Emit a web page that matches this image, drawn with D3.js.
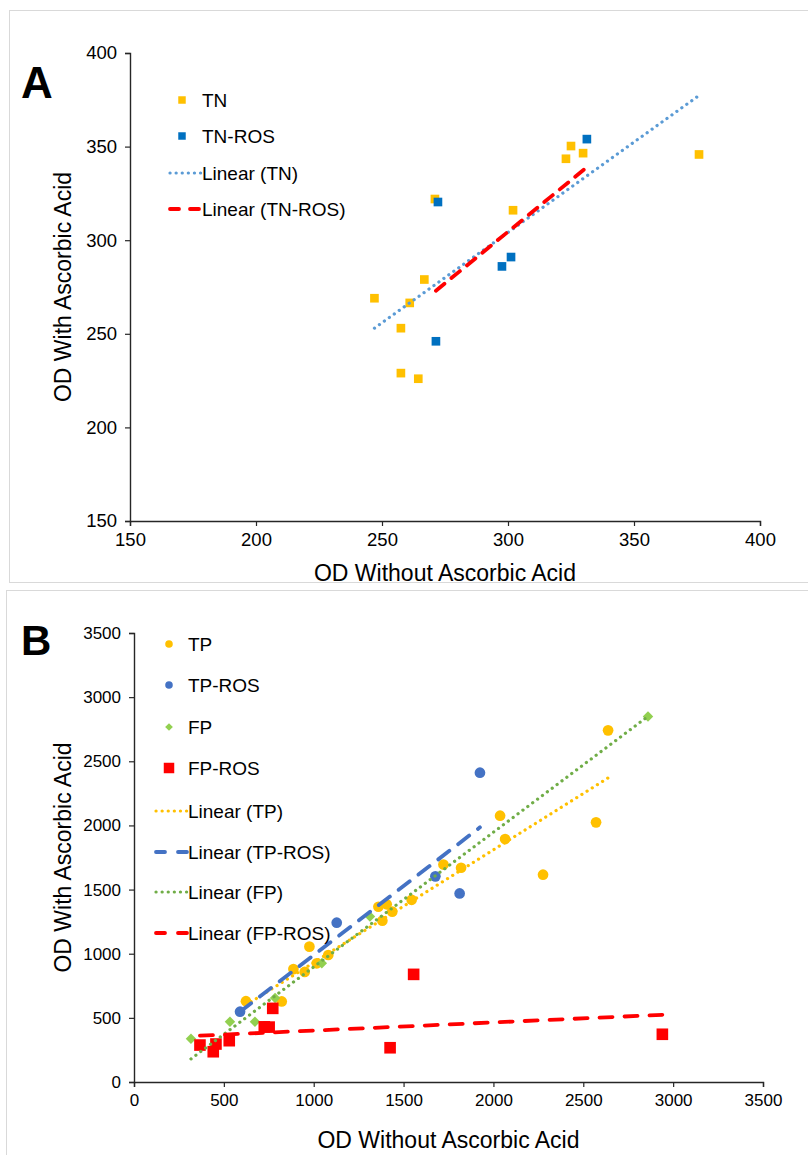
<!DOCTYPE html>
<html>
<head>
<meta charset="utf-8">
<script src="https://cdnjs.cloudflare.com/ajax/libs/d3/7.8.5/d3.min.js"></script>
<style>
  body { margin: 0; background: #fff; }
  text { font-family: "Liberation Sans", Arial, sans-serif; fill: #000; }
</style>
</head>
<body>
<div id="chart"></div>
<script>
// Panel A data (OD without, OD with)
var tnData = [[247, 269], [261, 266.5], [266.8, 279], [257.5, 253], [257.5, 229], [264.4, 226],
    [271, 322], [302, 316], [323, 343.5], [325, 350.3], [329.8, 346.5], [375.8, 345.8]];
var tnRosData = [[272.2, 320.4], [271.4, 246], [297.6, 286], [301.2, 291], [331.3, 354]];
var tnTrend = [[247, 253], [376, 377.5]];
var tnRosTrend = [[271.4, 273], [331.3, 339]];
var ticksA = [150, 200, 250, 300, 350, 400];

// Panel B data
var tpData = [[623, 630], [822, 628], [887, 880], [950, 858], [976, 1055], [1017, 925], [1081, 990],
    [1360, 1366], [1382, 1257], [1406, 1385], [1437, 1328], [1545, 1420], [1722, 1695], [1820, 1670],
    [2037, 2076], [2065, 1894], [2276, 1616], [2571, 2024], [2638, 2741]];
var tpRosData = [[590, 548], [1128, 1242], [1677, 1603], [1812, 1470], [1925, 2411]];
var fpData = [[317, 338], [534, 470], [673, 470], [785, 655], [1045, 925], [1313, 1290], [2860, 2850]];
var fpRosData = [[367, 288], [441, 236], [456, 296], [530, 322], [725, 430], [752, 428], [772, 574],
    [1425, 267], [1556, 839], [2940, 372]];
var tpTrend = [[623, 600], [2640, 2372]];
var tpRosTrend = [[590, 548], [1925, 1985]];
var fpTrend = [[317, 180], [2860, 2850]];
var fpRosTrend = [[367, 361], [2940, 524]];
var ticksB = [0, 500, 1000, 1500, 2000, 2500, 3000, 3500];

var svg = d3.select('#chart')
    .append('svg')
    .attr('width', 808)
    .attr('height', 1155);

// panel frames
svg.append('rect').attr('x', 9.5).attr('y', 10.5).attr('width', 820).attr('height', 572)
    .attr('fill', 'none').attr('stroke', '#d9d9d9');
svg.append('rect').attr('x', 6.5).attr('y', 590.5).attr('width', 820).attr('height', 600)
    .attr('fill', 'none').attr('stroke', '#d9d9d9');

function drawAxes(g, x, y, ticks, fontSize, xTitleY, yTitleX) {
    var xr = x.range(), yr = y.range();
    var xAxis = g.append('g')
        .attr('transform', `translate(0, ${yr[0]})`)
        .call(d3.axisBottom(x).tickValues(ticks).tickSize(5).tickPadding(7).tickFormat(d3.format('d')));
    var yAxis = g.append('g')
        .attr('transform', `translate(${xr[0]}, 0)`)
        .call(d3.axisLeft(y).tickValues(ticks).tickSize(5).tickPadding(8).tickFormat(d3.format('d')));
    [xAxis, yAxis].forEach(function(a) {
        a.select('.domain').attr('stroke', '#262626').attr('stroke-width', 1.4);
        a.selectAll('.tick line').attr('stroke', '#262626').attr('stroke-width', 1.2);
        a.selectAll('.tick text').attr('font-size', fontSize).attr('fill', '#000')
            .style('font-family', '"Liberation Sans", Arial, sans-serif');
    });
    g.append('text')
        .attr('x', (xr[0] + xr[1]) / 2)
        .attr('y', xTitleY)
        .attr('text-anchor', 'middle')
        .attr('font-size', 23)
        .text('OD Without Ascorbic Acid');
    g.append('text')
        .attr('transform', `translate(${yTitleX}, ${(yr[0] + yr[1]) / 2}) rotate(-90)`)
        .attr('text-anchor', 'middle')
        .attr('font-size', 23)
        .text('OD With Ascorbic Acid');
}

function drawTrend(g, x, y, pts, color, dash, width) {
    g.append('path')
        .datum(pts)
        .attr('d', d3.line().x(d => x(d[0])).y(d => y(d[1])))
        .attr('fill', 'none')
        .attr('stroke', color)
        .attr('stroke-width', width)
        .attr('stroke-linecap', 'round')
        .attr('stroke-dasharray', dash);
}

// rot = 45 turns a square into the Excel-style diamond
function drawMarks(g, x, y, data, shape, size, color, rot) {
    g.append('g').selectAll('path')
        .data(data)
        .enter()
        .append('path')
        .attr('transform', d => `translate(${x(d[0])}, ${y(d[1])}) rotate(${rot || 0})`)
        .attr('d', d3.symbol().type(shape).size(size))
        .attr('fill', color);
}

function legendItem(g, lx, tx, ly, label, mark) {
    if (mark.line) {
        g.append('line')
            .attr('x1', lx - 14).attr('x2', lx + 17)
            .attr('y1', ly).attr('y2', ly)
            .attr('stroke', mark.color)
            .attr('stroke-width', mark.width)
            .attr('stroke-linecap', 'round')
            .attr('stroke-dasharray', mark.dash);
    } else {
        g.append('path')
            .attr('transform', `translate(${lx}, ${ly}) rotate(${mark.rot || 0})`)
            .attr('d', d3.symbol().type(mark.shape).size(mark.size))
            .attr('fill', mark.color);
    }
    g.append('text')
        .attr('x', tx)
        .attr('y', ly + 7)
        .attr('font-size', 19)
        .text(label);
}

// ---------- Panel A ----------
var gA = svg.append('g');
var xA = d3.scaleLinear().domain([150, 400]).range([130, 760]);
var yA = d3.scaleLinear().domain([150, 400]).range([521, 53]);
drawAxes(gA, xA, yA, ticksA, 18.5, 581, 71);

drawMarks(gA, xA, yA, tnData, d3.symbolSquare, 75, '#FFC000');
drawMarks(gA, xA, yA, tnRosData, d3.symbolSquare, 75, '#0070C0');
drawTrend(gA, xA, yA, tnTrend, '#5B9BD5', '0.1,6', 3.2);
drawTrend(gA, xA, yA, tnRosTrend, '#FF0000', '11,9', 3.8);

gA.append('text').attr('x', 21).attr('y', 98).attr('font-size', 44).attr('font-weight', 'bold').text('A');

legendItem(gA, 182, 202, 100, 'TN', {shape: d3.symbolSquare, size: 56, color: '#FFC000'});
legendItem(gA, 182, 202, 136, 'TN-ROS', {shape: d3.symbolSquare, size: 56, color: '#0070C0'});
legendItem(gA, 184, 202, 173, 'Linear (TN)', {line: true, color: '#5B9BD5', dash: '0.1,6', width: 3.2});
legendItem(gA, 184, 202, 209, 'Linear (TN-ROS)', {line: true, color: '#FF0000', dash: '9,11', width: 3.8});

// ---------- Panel B ----------
var gB = svg.append('g');
var xB = d3.scaleLinear().domain([0, 3500]).range([134, 763]);
var yB = d3.scaleLinear().domain([0, 3500]).range([1082, 633]);
drawAxes(gB, xB, yB, ticksB, 17, 1148, 71);

drawMarks(gB, xB, yB, tpData, d3.symbolCircle, 90, '#FFC000');
drawMarks(gB, xB, yB, tpRosData, d3.symbolCircle, 90, '#4472C4');
drawMarks(gB, xB, yB, fpData, d3.symbolSquare, 55, '#92D050', 45);
drawMarks(gB, xB, yB, fpRosData, d3.symbolSquare, 135, '#FF0000');
drawTrend(gB, xB, yB, tpTrend, '#FFC000', '0.1,6', 3.2);
drawTrend(gB, xB, yB, tpRosTrend, '#4472C4', '14,11', 3.8);
drawTrend(gB, xB, yB, fpTrend, '#70AD47', '0.1,6', 3.2);
drawTrend(gB, xB, yB, fpRosTrend, '#FF0000', '13,12', 3.8);

gB.append('text').attr('x', 21).attr('y', 655).attr('font-size', 42).attr('font-weight', 'bold').text('B');

legendItem(gB, 169, 188, 644, 'TP', {shape: d3.symbolCircle, size: 45, color: '#FFC000'});
legendItem(gB, 169, 188, 685, 'TP-ROS', {shape: d3.symbolCircle, size: 45, color: '#4472C4'});
legendItem(gB, 169, 188, 727, 'FP', {shape: d3.symbolSquare, size: 30, color: '#92D050', rot: 45});
legendItem(gB, 169, 188, 768, 'FP-ROS', {shape: d3.symbolSquare, size: 110, color: '#FF0000'});
legendItem(gB, 170, 188, 811, 'Linear (TP)', {line: true, color: '#FFC000', dash: '0.1,6', width: 3.2});
legendItem(gB, 170, 188, 852, 'Linear (TP-ROS)', {line: true, color: '#4472C4', dash: '9,13', width: 3.8});
legendItem(gB, 170, 188, 892, 'Linear (FP)', {line: true, color: '#70AD47', dash: '0.1,6', width: 3.2});
legendItem(gB, 170, 188, 933, 'Linear (FP-ROS)', {line: true, color: '#FF0000', dash: '9,13', width: 3.8});
</script>
</body>
</html>
